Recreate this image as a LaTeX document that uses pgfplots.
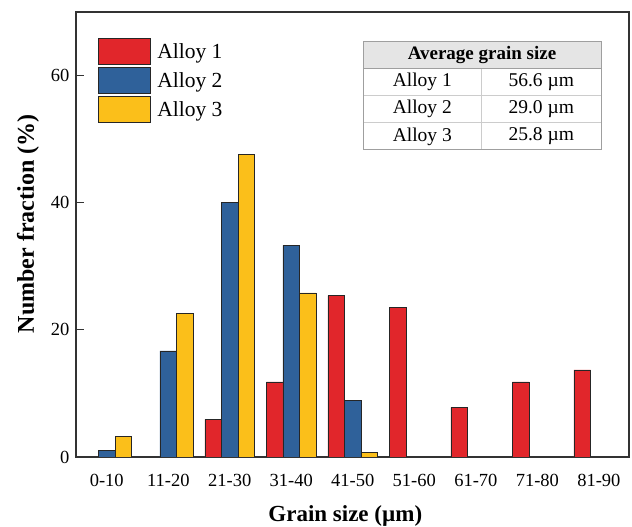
\documentclass[border=0pt]{standalone}
\usepackage{pgfplots}
\pgfplotsset{compat=1.18}
\usepackage{fontspec}
\setmainfont{Liberation Serif}
\definecolor{cred}{HTML}{E1262B}
\definecolor{cblue}{HTML}{2F619A}
\definecolor{cyel}{HTML}{FBBF1A}
\definecolor{axgray}{HTML}{333333}
\begin{document}
\begin{tikzpicture}
\useasboundingbox (-76pt,-70pt) rectangle (556pt,457pt);
\begin{axis}[
  at={(0,0)}, anchor=south west,
  scale only axis, width=553pt, height=445pt,
  xmin=-0.5, xmax=8.49, ymin=0, ymax=70,
  xtick={0,...,8},
  xticklabels={0-10,11-20,21-30,31-40,41-50,51-60,61-70,71-80,81-90},
  ytick={0,20,40,60},
  xtick pos=bottom, ytick pos=left,
  x tick style={draw=none},
  y tick style={axgray, line width=1pt},
  tick align=inside, major tick length=8pt,
  axis line style={axgray, line width=1.3pt},
  /pgf/number format/assume math mode=true,
  tick label style={font=\fontsize{18.5}{22}\selectfont, black},
  xticklabel style={yshift=-6pt},
  yticklabel style={xshift=-3pt},
  xlabel={Grain size (µm)},
  ylabel={Number fraction (\%)},
  xlabel style={at={(axis description cs:0.487,-0.146)}, anchor=base, font=\fontsize{23}{27}\selectfont\bfseries},
  ylabel style={at={(axis description cs:-0.087,0.524)}, anchor=center, font=\fontsize{24}{28}\selectfont\bfseries},
  ybar, bar width=0.27,
  legend image code/.code={\draw[#1,/tikz/.cd,bar width=3pt,bar shift=0pt] (0pt,-12.85pt) rectangle (51.7pt,12.85pt);},
  legend style={at={(axis description cs:0.0403,0.9409)}, anchor=north west, draw=none, fill=none, inner sep=0pt,
    row sep=2.6pt, column sep=5pt, font=\fontsize{21.5}{25}\selectfont,
    nodes={inner sep=1.5pt}},
  legend cell align=left,
]
\addplot[fill=cred, draw=black!85, line width=0.6pt, bar shift=-0.27] coordinates {
  (2,5.9) (3,11.8) (4,25.4) (5,23.5) (6,7.8) (7,11.8) (8,13.7)};
\addlegendentry{Alloy 1}
\addplot[fill=cblue, draw=black!85, line width=0.6pt, bar shift=0] coordinates {
  (0,1.1) (1,16.7) (2,40.0) (3,33.3) (4,8.9)};
\addlegendentry{Alloy 2}
\addplot[fill=cyel, draw=black!85, line width=0.6pt, bar shift=0.27] coordinates {
  (0,3.3) (1,22.6) (2,47.6) (3,25.8) (4,0.7)};
\addlegendentry{Alloy 3}
\end{axis}
% table
\fill[gray!20] (287pt,388.7pt) rectangle (525pt,415.3pt);
\draw[gray!40, line width=0.6pt] (287pt,361.5pt) -- (525pt,361.5pt);
\draw[gray!40, line width=0.6pt] (287pt,334.3pt) -- (525pt,334.3pt);
\draw[gray!40, line width=0.6pt] (405.7pt,388.7pt) -- (405.7pt,307pt);
\draw[gray!75, line width=0.7pt] (287pt,388.7pt) -- (525pt,388.7pt);
\draw[gray!75, line width=1pt] (287pt,307pt) rectangle (525pt,415.3pt);
\node[font=\fontsize{19}{22}\selectfont\bfseries] at (406pt,402pt) {Average grain size};
\begin{scope}[every node/.style={font=\fontsize{19.5}{22}\selectfont}]
\node at (346.3pt,375.1pt) {Alloy 1};
\node at (346.3pt,347.9pt) {Alloy 2};
\node at (346.3pt,320.6pt) {Alloy 3};
\node at (465.3pt,375.1pt) {56.6 µm};
\node at (465.3pt,347.9pt) {29.0 µm};
\node at (465.3pt,320.6pt) {25.8 µm};
\end{scope}
\end{tikzpicture}
\end{document}
